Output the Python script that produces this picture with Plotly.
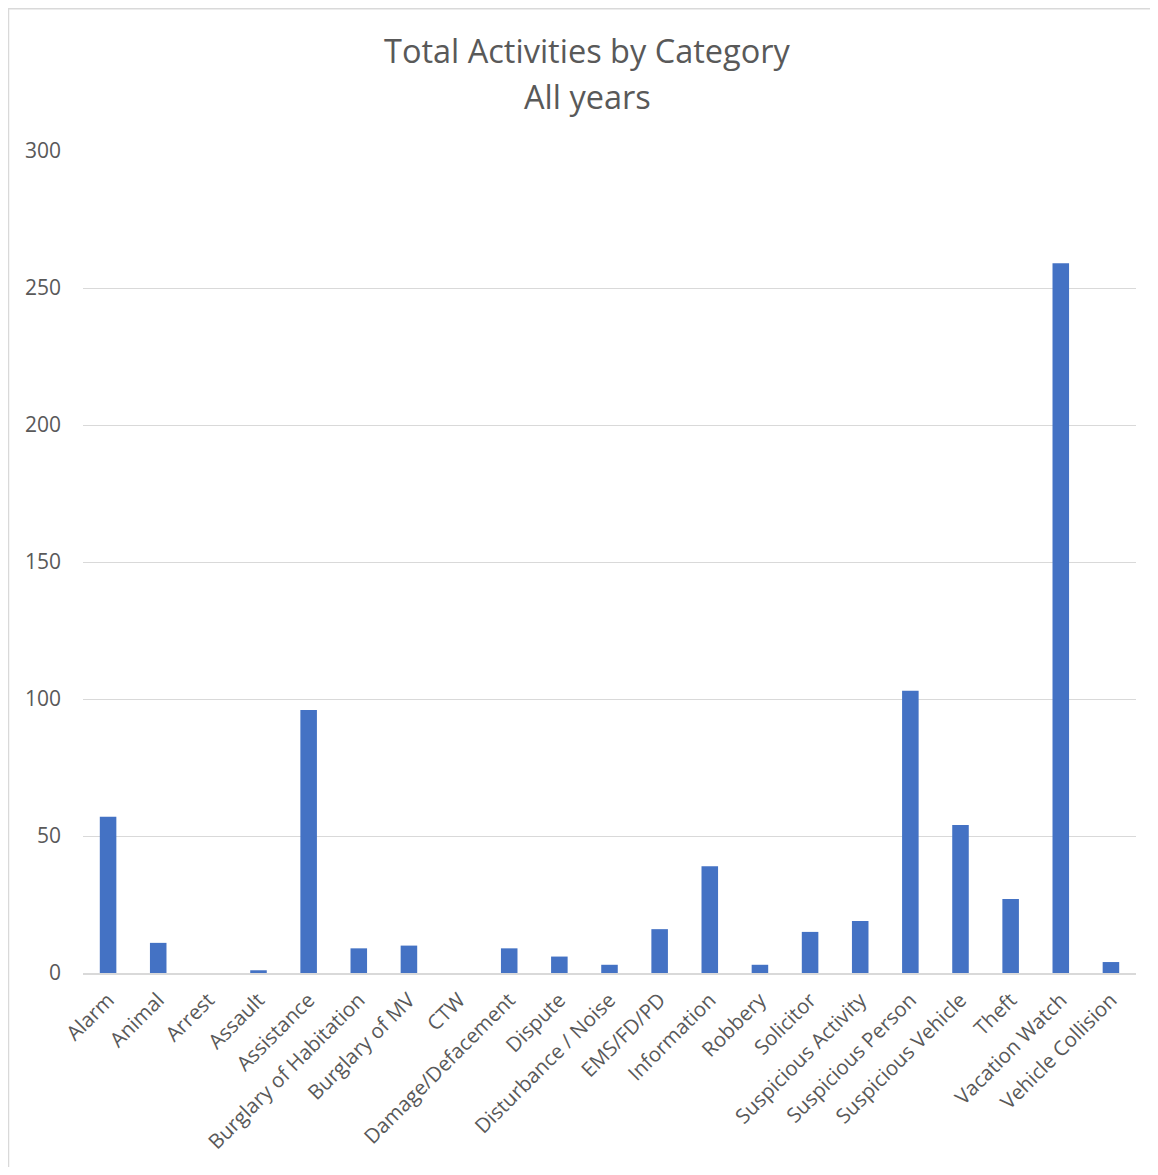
import plotly.graph_objects as go

categories = ["Alarm", "Animal", "Arrest", "Assault", "Assistance", "Burglary of Habitation",
              "Burglary of MV", "CTW", "Damage/Defacement", "Dispute", "Disturbance / Noise",
              "EMS/FD/PD", "Information", "Robbery", "Solicitor", "Suspicious Activity",
              "Suspicious Person", "Suspicious Vehicle", "Theft", "Vacation Watch", "Vehicle Collision"]
values = [57, 11, 0, 1, 96, 9, 10, 0, 9, 6, 3, 16, 39, 3, 15, 19, 103, 54, 27, 259, 4]
y_ticks = [0, 50, 100, 150, 200, 250, 300]

# page body has an 8px margin; figure coordinates are screen - 8
OFF = 8
W, H = 1142, 1159
L = 83 - OFF
T = 151 - OFF
R = W - (1136 - OFF)
B = H - (975 - OFF)
FONT = "Open Sans"
GREY = "#595959"
BORDER = "#d9d9d9"

fig = go.Figure(go.Bar(x=categories, y=values, marker_color="#4472C4",
                       marker_line_width=0, width=0.33))

pw = W - L - R
ph = H - T - B
def px_x(p):
    return (p - OFF - L) / pw
def px_y(p):
    return (H - B - (p - OFF)) / ph

fig.update_layout(
    width=W, height=H,
    margin=dict(l=L, r=R, t=T, b=B),
    paper_bgcolor="white", plot_bgcolor="white",
    showlegend=False,
    font=dict(family=FONT, color=GREY, size=20),
    annotations=[
        dict(text="Total Activities by Category", xref="paper", yref="paper",
             x=px_x(587), y=px_y(50), xanchor="center", yanchor="middle",
             showarrow=False, font=dict(size=32.5, color=GREY, family=FONT)),
        dict(text="All years", xref="paper", yref="paper",
             x=px_x(587), y=px_y(96), xanchor="center", yanchor="middle",
             showarrow=False, font=dict(size=32.5, color=GREY, family=FONT)),
    ],
    shapes=[
        dict(type="line", xref="paper", yref="paper",
             x0=px_x(8.5), x1=px_x(8.5), y0=px_y(8), y1=px_y(1300),
             line=dict(color=BORDER, width=1.5), layer="below"),
        dict(type="line", xref="paper", yref="paper",
             x0=px_x(8), x1=px_x(1300), y0=px_y(8.5), y1=px_y(8.5),
             line=dict(color=BORDER, width=1.5), layer="below"),
    ],
)
fig.update_xaxes(type="category", tickangle=-45, showgrid=False, ticks="",
                 showline=True, linecolor=BORDER, linewidth=2,
                 ticklabelstandoff=5,
                 tickfont=dict(size=20.5, color=GREY, family=FONT))
fig.update_yaxes(range=[0, 300], tickvals=y_ticks, showgrid=True, gridcolor=BORDER,
                 gridwidth=1, zeroline=False, showline=False, ticks="",
                 ticklabelstandoff=21,
                 tickfont=dict(size=21, color=GREY, family=FONT))

fig.write_html("out.html")
